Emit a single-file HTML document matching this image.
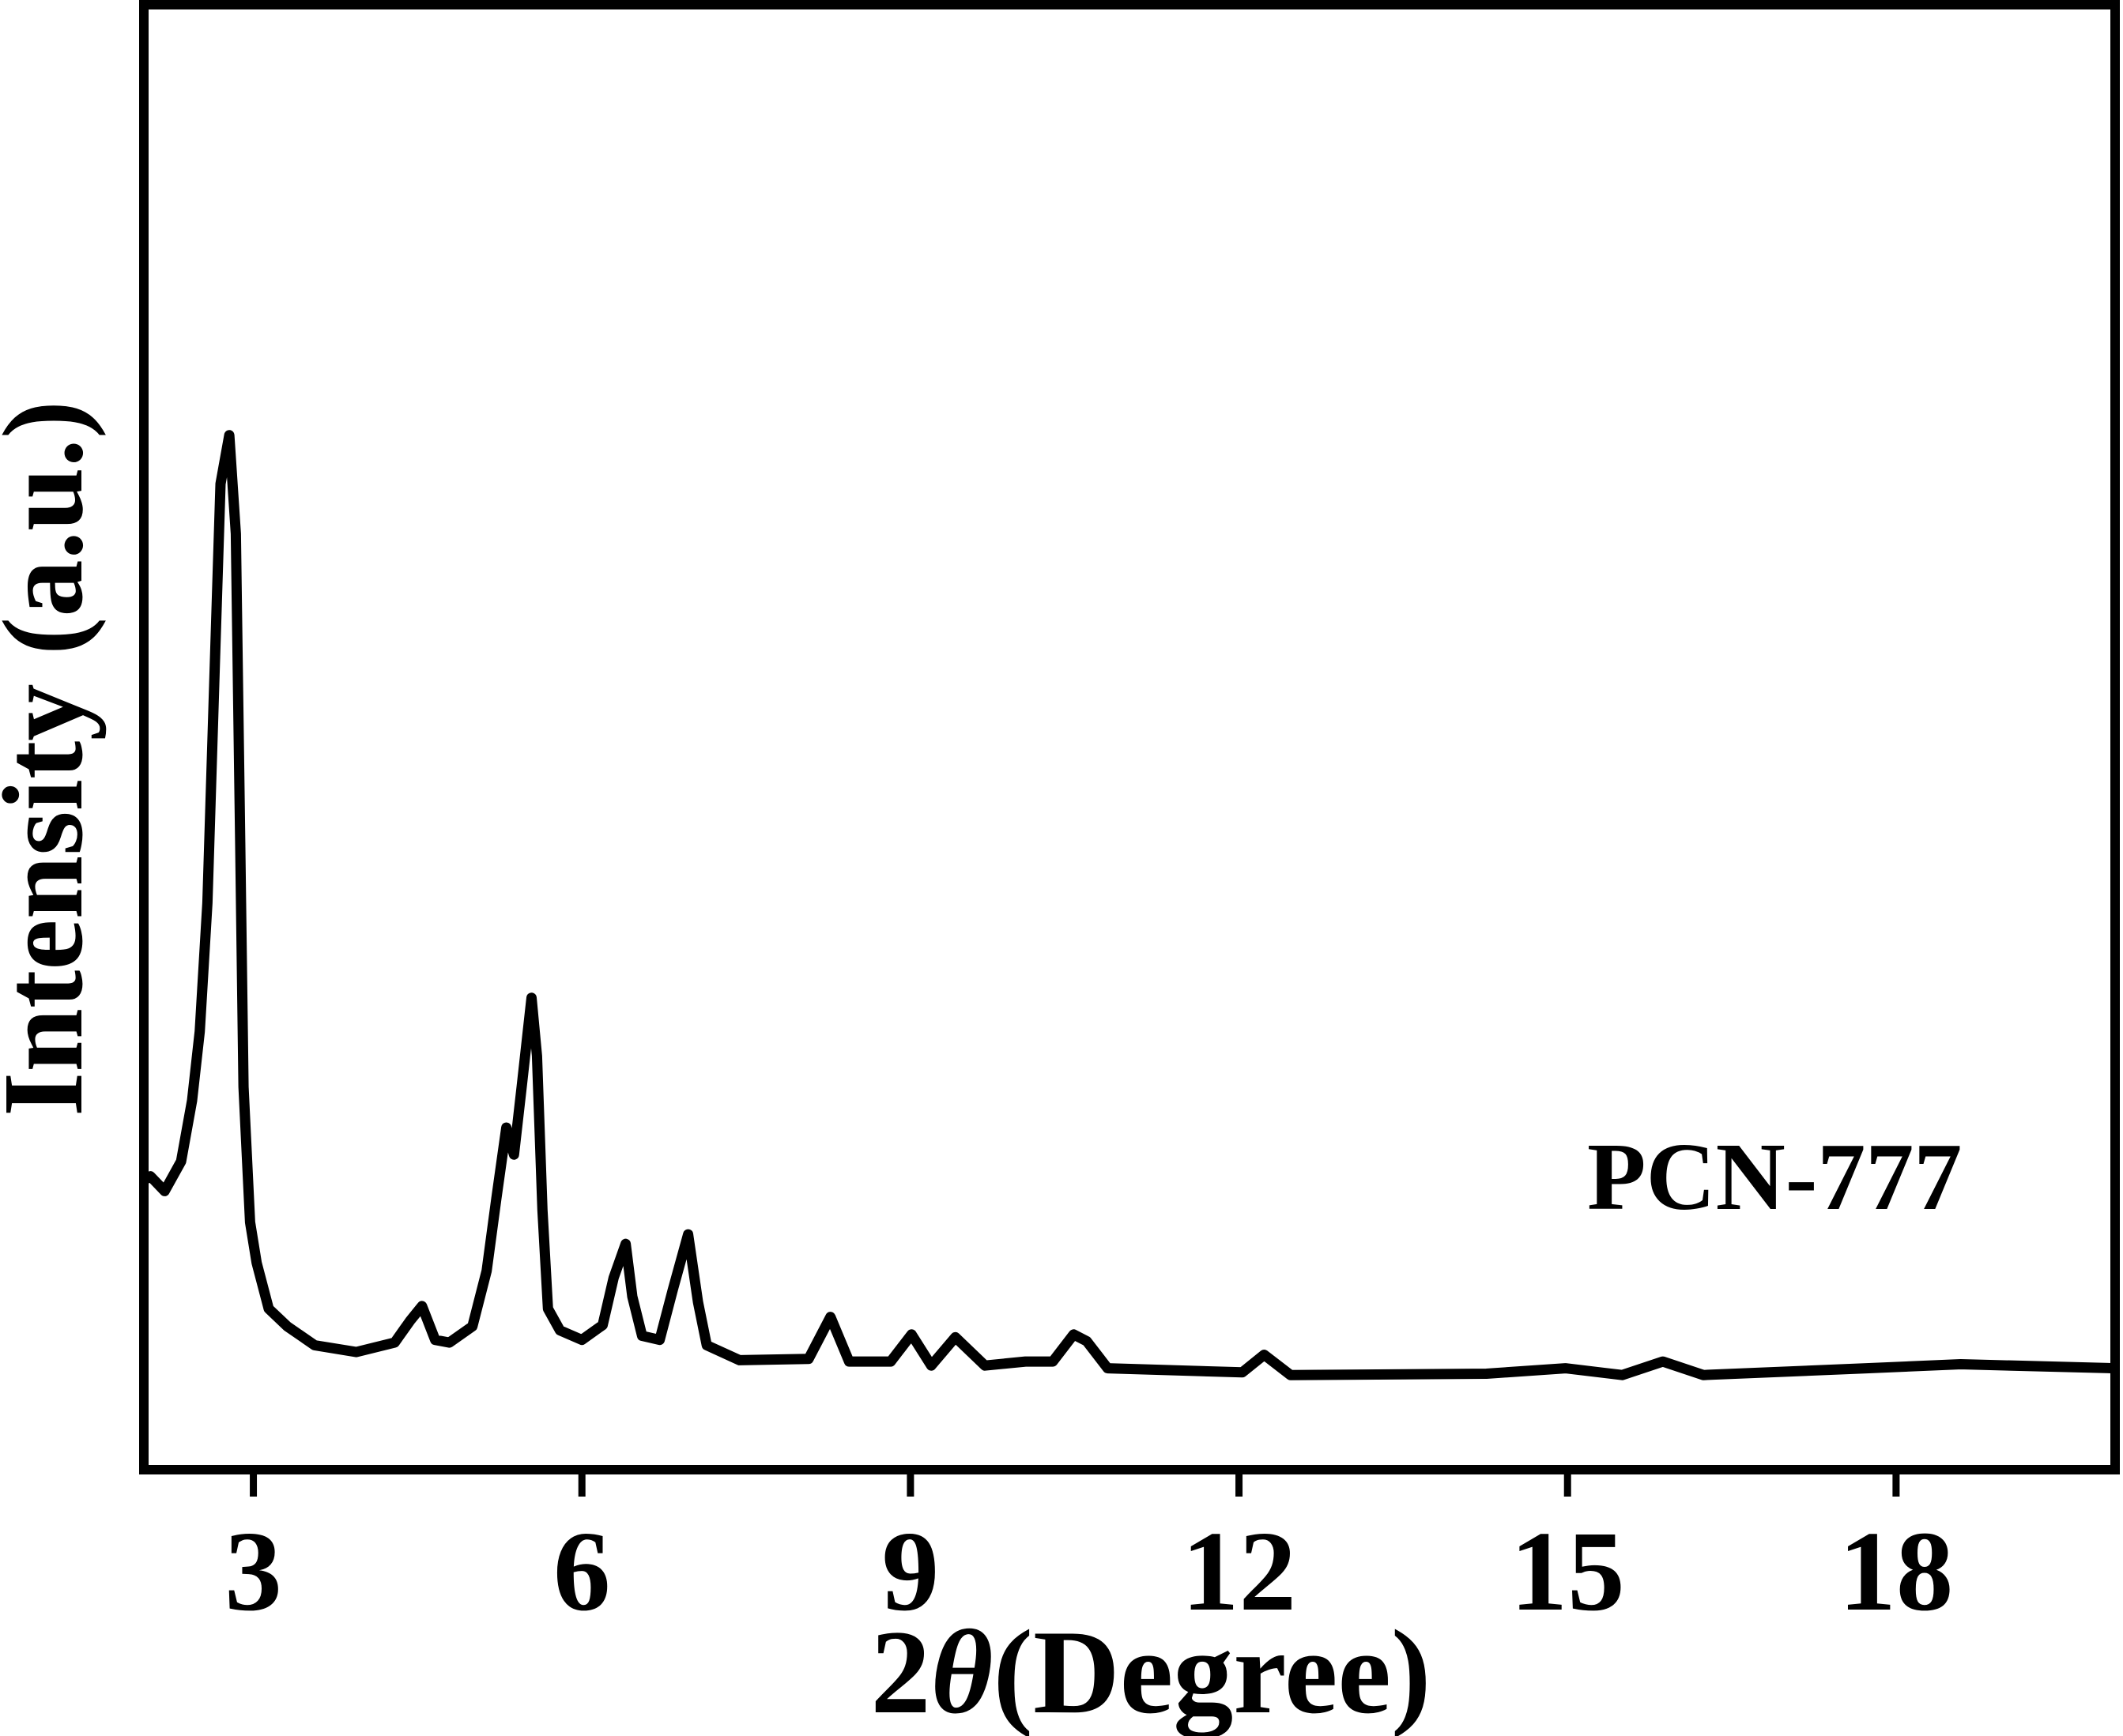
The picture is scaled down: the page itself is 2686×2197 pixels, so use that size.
<!DOCTYPE html>
<html><head><meta charset="utf-8"><style>
html,body{margin:0;padding:0;background:#fff;}
svg{display:block;}
text{font-family:"Liberation Serif","Times New Roman",Times,serif;font-weight:bold;fill:#000;}
</style></head><body>
<svg id="chart" width="2686" height="2197" viewBox="0 0 2686 2197" font-family="Liberation Serif, Times New Roman, serif">
<g id="plot"></g>
</svg>
<script>
const angles=[2.02,2.06,2.19,2.34,2.44,2.51,2.58,2.65,2.70,2.78,2.84,2.88,2.91,2.97,3.03,3.14,3.31,3.56,3.94,4.29,4.43,4.54,4.66,4.79,5.0,5.13,5.22,5.31,5.38,5.45,5.54,5.59,5.64,5.69,5.80,6.0,6.19,6.29,6.40,6.46,6.55,6.71,6.83,6.97,7.06,7.14,7.44,8.07,8.27,8.44,8.82,9.01,9.19,9.41,9.68,10.05,10.30,10.49,10.61,10.80,12.03,12.23,12.47,14.26,14.98,15.5,15.87,16.24,17.73,18.59,19.99];
const intensity=[215,217,206,228,273,324,419,601,729,765,692,464,283,183,153,119,106,92,87,94,110,121,96,94,106,147,201,253,233,283,349,306,192,119,103,96,107,142,167,128,99,96,133,174,124,92,81,82,113,80,80,100,77,98,77,80,80,100,95,75,72,85,70,71,75,70,80,70,75,78,75];
const xTicks=[3,6,9,12,15,18];
const X0=2,X1=20,PX0=182,PX1=2676,PY0=1860,VSCALE=1.7115;
function sx(d){return PX0+(d-X0)*(PX1-PX0)/(X1-X0);}
function sy(v){return PY0-v*VSCALE;}
const NS='http://www.w3.org/2000/svg';
const g=document.getElementById('plot');
function mk(t,a){const e=document.createElementNS(NS,t);for(const k in a)e.setAttribute(k,a[k]);g.appendChild(e);return e;}
let d='';
angles.forEach((a,i)=>{d+=(i?'L':'M')+sx(a).toFixed(1)+','+sy(intensity[i]).toFixed(1);});
const line=mk('path',{d:d,fill:'none',stroke:'#000','stroke-width':13,'stroke-linejoin':'round','stroke-linecap':'round'});


const frame=mk('rect',{x:PX0,y:6,width:PX1-PX0,height:PY0-6,fill:'none',stroke:'#000','stroke-width':12});


xTicks.forEach(t=>{
  const tk=mk('line',{x1:sx(t),x2:sx(t),y1:PY0,y2:PY0+34,stroke:'#000','stroke-width':9});
  
  
  const lb=mk('text',{x:sx(t),y:2037,'text-anchor':'middle','font-size':145});
  lb.textContent=t;
  
  
});
const xt=mk('text',{x:1456,y:2167,'text-anchor':'middle','font-size':152});
xt.innerHTML='2<tspan font-style="italic">θ</tspan>(Degree)';


const yt=mk('text',{x:0,y:0,'text-anchor':'middle','font-size':145,transform:'translate(103,960) rotate(-90)'});
yt.textContent='Intensity (a.u.)';


const lab=mk('text',{x:2008,y:1530,'font-size':122});
lab.textContent='PCN-777';


</script>
</body></html>
